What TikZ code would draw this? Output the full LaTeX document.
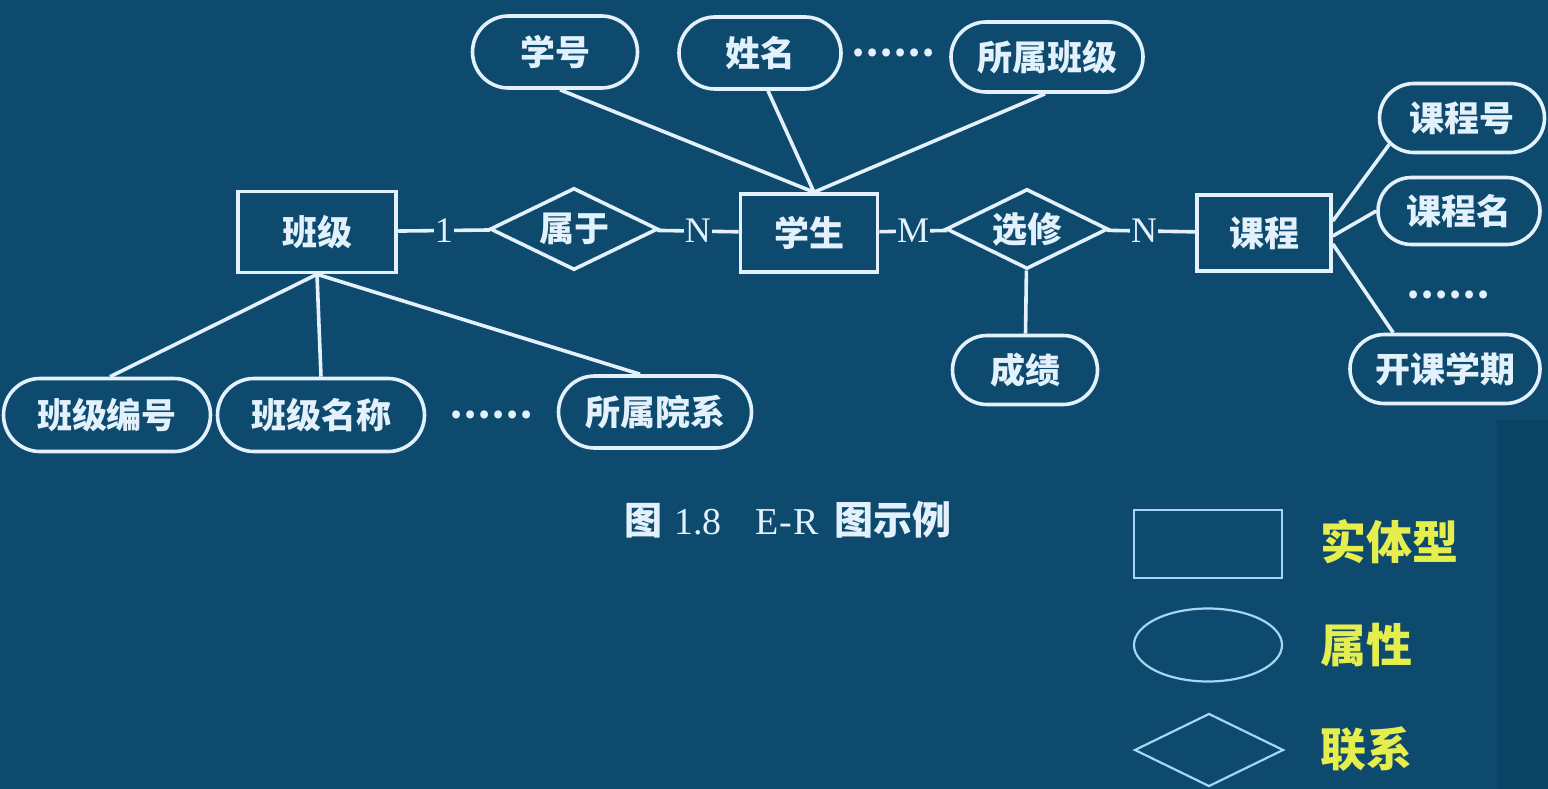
\documentclass[tikz,border=0pt]{standalone}
\usepackage{fontspec}
\setmainfont{Liberation Serif}
\newfontfamily\cjk{Noto Sans CJK SC}
\usetikzlibrary{shapes.geometric,shapes.misc}
\definecolor{bg}{HTML}{0D4A6E}
\definecolor{bgdark}{HTML}{0A4465}
\definecolor{linec}{HTML}{E2F1FB}
\definecolor{legc}{HTML}{A6D6F2}
\definecolor{yel}{HTML}{E6EE4E}
\tikzset{
  x=1pt,y=-1pt,
  conn/.style={draw=linec,line width=3.6pt},
  txt/.style={text=linec,font=\cjk\bfseries\fontsize{35}{35}\selectfont},
  entity/.style={draw=linec,line width=3.6pt,rectangle,inner sep=0pt,txt},
  rel/.style={draw=linec,line width=3.6pt,diamond,inner sep=0pt,txt},
  attr/.style={draw=linec,line width=3.6pt,rounded rectangle,inner sep=0pt,txt},
  card/.style={fill=bg,inner sep=1pt,text=linec,font=\fontsize{36}{36}\selectfont},
  dots/.style={text=linec,font=\cjk\bfseries\fontsize{37}{37}\selectfont,inner sep=0pt},
  leg/.style={draw=legc,line width=2.2pt,inner sep=0pt},
  legtxt/.style={text=yel,font=\cjk\bfseries\fontsize{46}{46}\selectfont,inner sep=0pt,anchor=west}
}
\begin{document}
\begin{tikzpicture}
\fill[bg] (0,0) rectangle (1548,789);
\fill[bgdark] (1497,420) rectangle (1548,789);
\useasboundingbox (0,0) rectangle (1548,789);

% entities
\node[entity,minimum width=158,minimum height=81] (bj) at (317,232) {班级};
\node[entity,minimum width=137,minimum height=78] (xs) at (809,233) {学生};
\node[entity,minimum width=134,minimum height=76] (kc) at (1264,233) {课程};

% relationships
\node[rel,minimum width=168,minimum height=82,aspect=2] (sy) at (574,229) {属于};
\node[rel,minimum width=162,minimum height=80,aspect=2] (xx) at (1027,229) {选修};

% attributes
\node[attr,minimum width=165,minimum height=72] (xh) at (555,52) {学号};
\node[attr,minimum width=162,minimum height=72] (xm) at (760,53) {姓名};
\node[dots] (d1) at (893,53) {……};
\node[attr,minimum width=192,minimum height=70] (ssbj) at (1047,57) {所属班级};

\node[attr,minimum width=165,minimum height=69] (kch) at (1462,118) {课程号};
\node[attr,minimum width=162,minimum height=67] (kcm) at (1459,211) {课程名};
\node[dots] (d2) at (1448,295) {……};
\node[attr,minimum width=190,minimum height=69] (kkxq) at (1445,369) {开课学期};

\node[attr,minimum width=145,minimum height=69] (cj) at (1025,370) {成绩};

\node[attr,minimum width=207,minimum height=73] (bjbh) at (107,415) {班级编号};
\node[attr,minimum width=207,minimum height=73] (bjmc) at (321,415) {班级名称};
\node[dots] (d3) at (491,415) {……};
\node[attr,minimum width=193,minimum height=72] (ssyx) at (655,412) {所属院系};

% relationship connectors with cardinalities
\draw[conn] (bj) -- node[card] {1} (sy);
\draw[conn] (sy) -- node[card] {N} (xs);
\draw[conn] (xs) -- node[card] {M} (xx);
\draw[conn] (xx) -- node[card,pos=0.42] {N} (kc);
\draw[conn] (xx) -- (cj);

% student attributes
\coordinate (xst) at ([xshift=5pt]xs.north);
\draw[conn] ([xshift=5pt]xh.south) -- (xst);
\draw[conn] ([xshift=8pt]xm.south) -- (xst);
\draw[conn] ([xshift=-2pt]ssbj.south) -- (xst);

% class attributes
\draw[conn] (bj.south) -- ([xshift=3pt]bjbh.north);
\draw[conn] (bj.south) -- (bjmc.north);
\draw[conn] (bj.south) -- ([xshift=-15pt]ssyx.north);

% course attributes
\draw[conn] ([yshift=12pt]kc.east) -- (kch.200);
\draw[conn] ([yshift=-3pt]kc.east) -- (kcm.west);
\draw[conn] ([yshift=-11pt]kc.east) -- (kkxq.145);

% caption
\node[text=linec,font=\fontsize{38}{38}\selectfont,inner sep=0pt,anchor=west] (cap) at (624,520)
  {{\cjk\bfseries\fontsize{38}{38}\selectfont 图}\hspace{12pt}1.8\hspace{34pt}E\hspace{1pt}-\hspace{1pt}R\hspace{16pt}{\cjk\bfseries\fontsize{39}{39}\selectfont 图示例}};

% legend
\node[leg,rectangle,minimum width=148,minimum height=68] (lr) at (1208,544) {};
\node[leg,ellipse,minimum width=148,minimum height=73] (le) at (1208,645) {};
\node[leg,diamond,aspect=2,minimum width=149,minimum height=73] (ld) at (1209,750) {};
\node[legtxt] (t1) at (1320,542) {实体型};
\node[legtxt] (t2) at (1320,645) {属性};
\node[legtxt] (t3) at (1320,749) {联系};
\end{tikzpicture}
\end{document}
